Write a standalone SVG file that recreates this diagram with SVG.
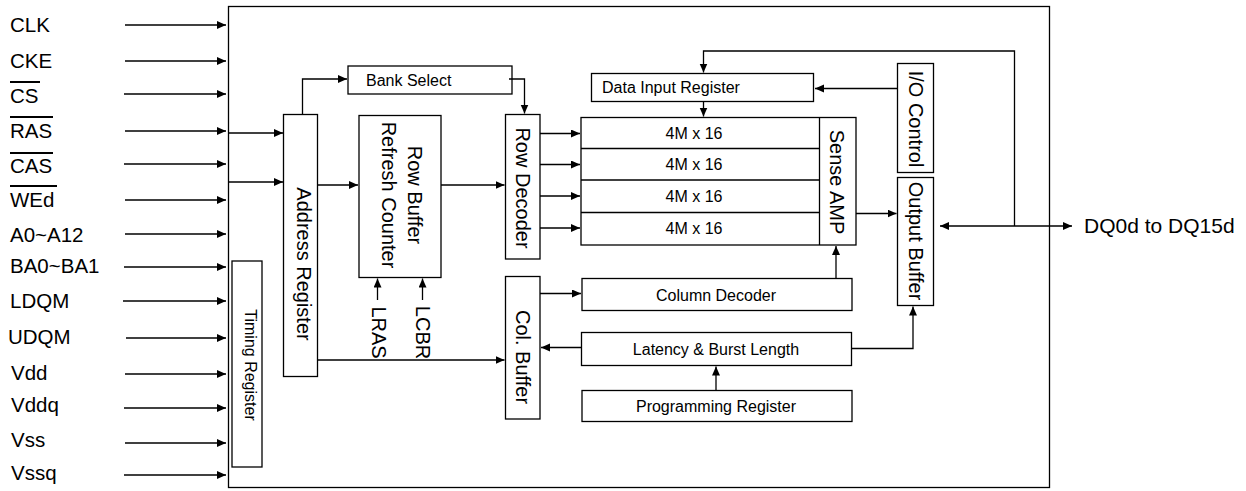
<svg xmlns="http://www.w3.org/2000/svg" width="1246" height="491" viewBox="0 0 1246 491">
<style>
text{font-family:"Liberation Sans",Arial,sans-serif;fill:#000}
.lbl{font-size:20.5px}
.sm{font-size:16px}
.box{fill:#fff;stroke:#000;stroke-width:1.3}
.ln{fill:none;stroke:#000;stroke-width:1.3}
.ar{fill:none;stroke:#000;stroke-width:1.3;marker-end:url(#ah)}
.ov{stroke:#000;stroke-width:2}
.rot{font-size:20px;text-anchor:middle;dominant-baseline:central}
.mid{text-anchor:middle}
</style>
<defs>
<marker id="ah" markerUnits="userSpaceOnUse" markerWidth="10" markerHeight="9" refX="9" refY="4" orient="auto-start-reverse">
<path d="M0,0 L9,4 L0,8 z" fill="#000"/>
</marker>
</defs>
<rect width="1246" height="491" fill="#fff"/>
<g id="chip"><rect x="228.5" y="6.5" width="821" height="481" class="box"/></g>
<g id="inputs">
<text class="lbl" x="10" y="32">CLK</text>
<text class="lbl" x="10" y="68">CKE</text>
<text class="lbl" x="10" y="103">CS</text>
<line class="ov" x1="10" y1="82" x2="40" y2="82"/>
<text class="lbl" x="10" y="138">RAS</text>
<line class="ov" x1="10" y1="117" x2="53" y2="117"/>
<text class="lbl" x="10" y="173">CAS</text>
<line class="ov" x1="10" y1="153" x2="53" y2="153"/>
<text class="lbl" x="10" y="207">WEd</text>
<line class="ov" x1="10" y1="186" x2="57" y2="186"/>
<text class="lbl" x="10" y="242">A0~A12</text>
<text class="lbl" x="10" y="273">BA0~BA1</text>
<text class="lbl" x="10" y="308">LDQM</text>
<text class="lbl" x="8" y="344">UDQM</text>
<text class="lbl" x="11" y="380">Vdd</text>
<text class="lbl" x="11" y="412">Vddq</text>
<text class="lbl" x="11" y="447">Vss</text>
<text class="lbl" x="11" y="480">Vssq</text>
</g>
<g id="timing-register"><rect x="232" y="261" width="30" height="206" class="box"/>
<text class="rot" style="font-size:16px" transform="translate(250,365) rotate(90)">Timing Register</text></g>
<g id="address-register"><rect x="283.5" y="114.5" width="34" height="262" class="box"/>
<text class="rot" transform="translate(304,264) rotate(90)">Address Register</text></g>
<g id="bank-select"><rect x="348" y="66" width="164" height="28" class="box"/>
<text class="sm" x="366" y="86">Bank Select</text></g>
<g id="row-buffer"><rect x="359" y="115.5" width="82" height="162" class="box"/>
<text class="rot" transform="translate(415,195) rotate(90)">Row Buffer</text>
<text class="rot" transform="translate(389,195) rotate(90)">Refresh Counter</text></g>
<g id="row-decoder"><rect x="505.5" y="114.5" width="34.5" height="144.5" class="box"/>
<text class="rot" transform="translate(523,188) rotate(90)">Row Decoder</text></g>
<g id="col-buffer"><rect x="505.5" y="276.5" width="34.5" height="142.5" class="box"/>
<text class="rot" transform="translate(523,357) rotate(90)">Col. Buffer</text></g>
<g id="data-input-register"><rect x="591.5" y="73.5" width="222" height="28" class="box"/>
<text class="sm" x="602" y="93">Data Input Register</text></g>
<g id="memory-array"><rect x="581" y="117.5" width="275" height="127.5" class="box"/>
<line class="ln" x1="581" y1="148.5" x2="819" y2="148.5"/>
<line class="ln" x1="581" y1="180" x2="819" y2="180"/>
<line class="ln" x1="581" y1="212.5" x2="819" y2="212.5"/>
<line class="ln" x1="819.5" y1="117.5" x2="819.5" y2="245"/>
<text class="sm mid" x="694" y="138.5">4M x 16</text>
<text class="sm mid" x="694" y="170">4M x 16</text>
<text class="sm mid" x="694" y="202">4M x 16</text>
<text class="sm mid" x="694" y="234">4M x 16</text>
<text class="rot" transform="translate(837,182) rotate(90)">Sense AMP</text></g>
<g id="io-control"><rect x="897.5" y="63.5" width="36" height="109" class="box"/>
<text class="rot" transform="translate(915.5,119) rotate(90)">I/O Control</text></g>
<g id="output-buffer"><rect x="897.5" y="177.5" width="36" height="128" class="box"/>
<text class="rot" transform="translate(915.5,241) rotate(90)">Output Buffer</text></g>
<g id="column-decoder"><rect x="582" y="278.5" width="270" height="32" class="box"/>
<text class="sm mid" x="716" y="301">Column Decoder</text></g>
<g id="latency-burst"><rect x="581.5" y="332.5" width="270" height="33" class="box"/>
<text class="sm mid" x="716" y="354.5">Latency &amp; Burst Length</text></g>
<g id="programming-register"><rect x="582" y="390.5" width="270" height="31" class="box"/>
<text class="sm mid" x="716" y="411.5">Programming Register</text></g>
<g id="lras-lcbr">
<text class="rot" transform="translate(379,332.5) rotate(90)">LRAS</text>
<text class="rot" transform="translate(422.5,332.5) rotate(90)">LCBR</text></g>
<g id="dq-label"><text x="1084" y="232.5" style="font-size:21px">DQ0d to DQ15d</text></g>
<g id="connectors">
<line class="ar" x1="125" y1="25" x2="226" y2="25"/>
<line class="ar" x1="125" y1="61" x2="226" y2="61"/>
<line class="ar" x1="124" y1="94" x2="226" y2="94"/>
<line class="ar" x1="125" y1="131" x2="226" y2="131"/>
<line class="ar" x1="124" y1="164" x2="226" y2="164"/>
<line class="ar" x1="125" y1="200" x2="226" y2="200"/>
<line class="ar" x1="125" y1="234" x2="226" y2="234"/>
<line class="ar" x1="124" y1="267" x2="226" y2="267"/>
<line class="ar" x1="123" y1="301" x2="226" y2="301"/>
<line class="ar" x1="126" y1="338" x2="226" y2="338"/>
<line class="ar" x1="125" y1="374" x2="226" y2="374"/>
<line class="ar" x1="124" y1="408" x2="226" y2="408"/>
<line class="ar" x1="125" y1="443" x2="226" y2="443"/>
<line class="ar" x1="124" y1="475" x2="226" y2="475"/>
<line class="ar" x1="229" y1="133" x2="283" y2="133"/>
<line class="ar" x1="229" y1="182" x2="283" y2="182"/>
<path class="ar" d="M302.5,114.5 V79 H347"/>
<path class="ar" d="M509,79 H524.5 V113.5"/>
<line class="ar" x1="317.5" y1="185" x2="358" y2="185"/>
<line class="ar" x1="441" y1="185" x2="504.5" y2="185"/>
<line class="ar" x1="540" y1="133.5" x2="580" y2="133.5"/>
<line class="ar" x1="540" y1="164.5" x2="580" y2="164.5"/>
<line class="ar" x1="540" y1="196" x2="580" y2="196"/>
<line class="ar" x1="540" y1="228" x2="580" y2="228"/>
<line class="ar" x1="377.5" y1="300" x2="377.5" y2="278.5"/>
<line class="ar" x1="422.5" y1="300" x2="422.5" y2="278.5"/>
<line class="ar" x1="317.5" y1="360" x2="504.5" y2="360"/>
<line class="ar" x1="540" y1="293.5" x2="581" y2="293.5"/>
<line class="ar" x1="581.5" y1="347.5" x2="541" y2="347.5"/>
<line class="ar" x1="716" y1="390.5" x2="716" y2="366.5"/>
<line class="ar" x1="836" y1="278.5" x2="836" y2="246"/>
<line class="ar" x1="703.5" y1="101.5" x2="703.5" y2="116.5"/>
<path class="ar" d="M1014.5,226 V51 H703.5 V72.5"/>
<line class="ar" x1="897.5" y1="88.5" x2="815" y2="88.5"/>
<line class="ar" x1="856" y1="213.5" x2="896.5" y2="213.5"/>
<path class="ar" d="M851.5,348.5 H913 V306.5"/>
<line class="ar" x1="940" y1="226" x2="1072" y2="226" style="marker-start:url(#ah)"/>
</g>
</svg>
